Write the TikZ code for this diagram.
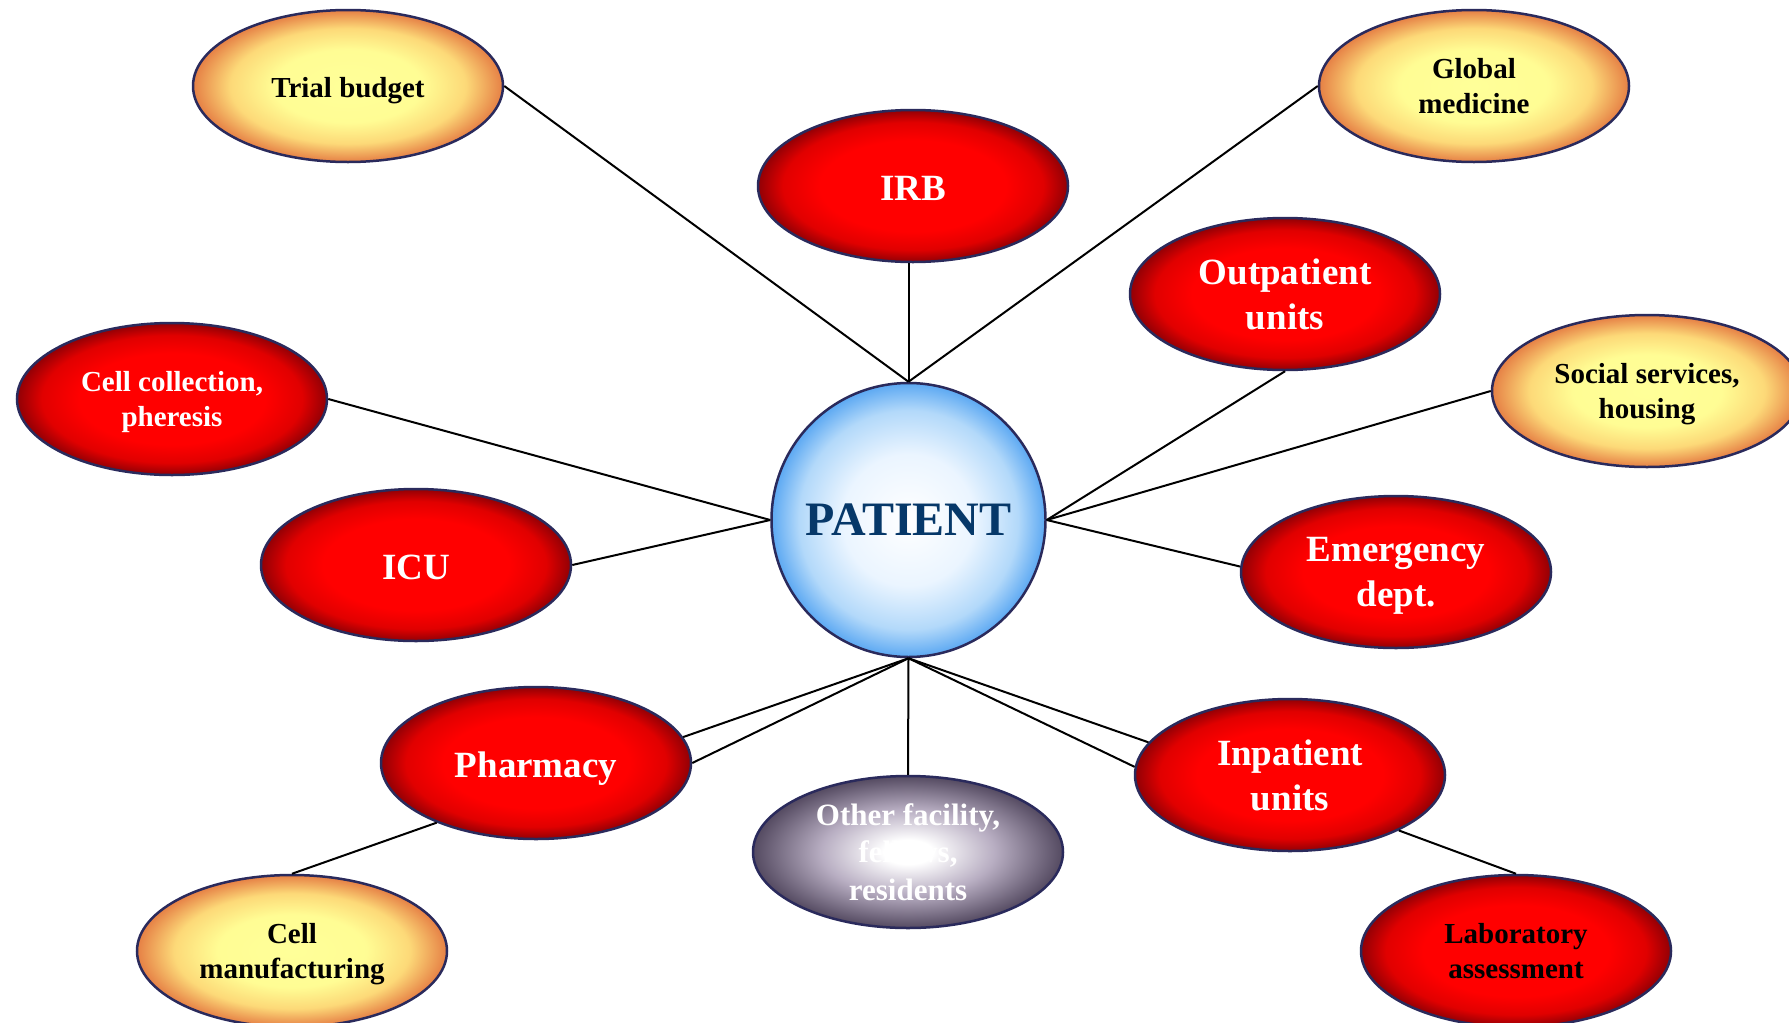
\documentclass[tikz,border=0pt]{standalone}
\usepackage{fontspec}
\setmainfont{Liberation Serif}
\usetikzlibrary{shapes.geometric}
\definecolor{rim}{RGB}{42,42,92}
\definecolor{patblue}{RGB}{6,56,105}
\pgfdeclareradialshading{redsh}{\pgfpoint{0bp}{0bp}}{color(0bp)=(rgb,1:red,1;green,0;blue,0); color(15bp)=(rgb,1:red,1;green,0;blue,0); color(21bp)=(rgb,1:red,0.88;green,0;blue,0); color(25bp)=(rgb,1:red,0.57;green,0;blue,0.02); color(50bp)=(rgb,1:red,0.57;green,0;blue,0.02)}
\pgfdeclareradialshading{yelsh}{\pgfpoint{0bp}{0bp}}{color(0bp)=(rgb,1:red,1;green,1;blue,0.6); color(12bp)=(rgb,1:red,1;green,0.99;blue,0.58); color(19bp)=(rgb,1:red,0.99;green,0.85;blue,0.47); color(25bp)=(rgb,1:red,0.9;green,0.5;blue,0.27); color(50bp)=(rgb,1:red,0.9;green,0.5;blue,0.27)}
\pgfdeclareradialshading{graysh}{\pgfpoint{0bp}{0bp}}{color(0bp)=(rgb,1:red,1;green,1;blue,1); color(4bp)=(rgb,1:red,1;green,1;blue,1); color(14bp)=(rgb,1:red,0.72;green,0.68;blue,0.76); color(25bp)=(rgb,1:red,0.33;green,0.29;blue,0.38); color(50bp)=(rgb,1:red,0.33;green,0.29;blue,0.38)}
\pgfdeclareradialshading{bluesh}{\pgfpoint{0bp}{0bp}}{color(0bp)=(rgb,1:red,1;green,1;blue,1); color(12bp)=(rgb,1:red,0.92;green,0.96;blue,1); color(20bp)=(rgb,1:red,0.7;green,0.85;blue,0.98); color(25bp)=(rgb,1:red,0.36;green,0.66;blue,0.95); color(50bp)=(rgb,1:red,0.36;green,0.66;blue,0.95)}
\tikzset{
  ell/.style={ellipse, draw=rim, line width=1.25pt, minimum width=155pt, minimum height=76pt, inner sep=0pt, align=center, text depth=0pt, execute at begin node={\rule{0pt}{0.8em}}},
  redell/.style={ell, shading=redsh, text=white},
  yelell/.style={ell, shading=yelsh, text=black},
  grayell/.style={ell, shading=graysh, text=white},
  bigtxt/.style={font=\fontsize{18.5}{22.8}\selectfont\bfseries},
  smalltxt/.style={font=\fontsize{14.5}{17.2}\selectfont\bfseries},
  link/.style={line width=1pt, black}
}
\begin{document}
\begin{tikzpicture}[x=0.5pt, y=-0.5pt]
\useasboundingbox (0,0) rectangle (1789,1023);
\clip (0,0) rectangle (1789,1023);
\fill[white] (0,0) rectangle (1789,1023);
% centre
\node[circle, draw=rim, line width=1.25pt, minimum size=137pt, inner sep=0pt, shading=bluesh, text=patblue, font=\fontsize{24}{28}\selectfont\bfseries] (pat) at (908.5,520) {PATIENT};
% red nodes
\node[redell, bigtxt] (irb) at (913,186) {IRB};
\node[redell, bigtxt] (out) at (1285,294) {Outpatient\\units};
\node[redell, smalltxt] (cc) at (172,399) {Cell collection,\\pheresis};
\node[redell, bigtxt] (icu) at (416,565) {ICU};
\node[redell, bigtxt] (em) at (1396,572) {Emergency\\dept.};
\node[redell, bigtxt] (ph) at (536,763) {Pharmacy};
\node[redell, bigtxt] (inp) at (1290,775) {Inpatient\\units};
\node[redell, smalltxt, text=black] (lab) at (1516,951) {Laboratory\\assessment};
% yellow nodes
\node[yelell, smalltxt] (tb) at (348,86) {Trial budget};
\node[yelell, smalltxt] (gm) at (1474,86) {Global\\medicine};
\node[yelell, smalltxt] (soc) at (1647,391) {Social services,\\housing};
\node[yelell, smalltxt] (cm) at (292,951) {Cell\\manufacturing};
% gray node
\node[grayell, font=\fontsize{15.5}{18.9}\selectfont\bfseries] (oth) at (908,852) {Other facility,\\fellows,\\residents};
% connectors
\draw[link] (tb.east) -- (pat.north);
\draw[link] (pat.north |- irb.south) -- (pat.north);
\draw[link] (gm.west) -- (pat.north);
\draw[link] (out.south) -- (pat.east);
\draw[link] (soc.west) -- (pat.east);
\draw[link] (em.178) -- (pat.east);
\draw[link] (cc.east) -- (pat.west);
\draw[link] (icu.east) -- (pat.west);
\draw[link] (ph.10) -- (pat.south);
\draw[link] (ph.east) -- (pat.south);
\draw[link] (oth.north) -- (pat.south);
\draw[link] (inp.167) -- (pat.south);
\draw[link] (inp.177) -- (pat.south);
\draw[link] (ph.211) -- (cm.north);
\draw[link] (inp.-27) -- (lab.north);
\end{tikzpicture}
\end{document}
